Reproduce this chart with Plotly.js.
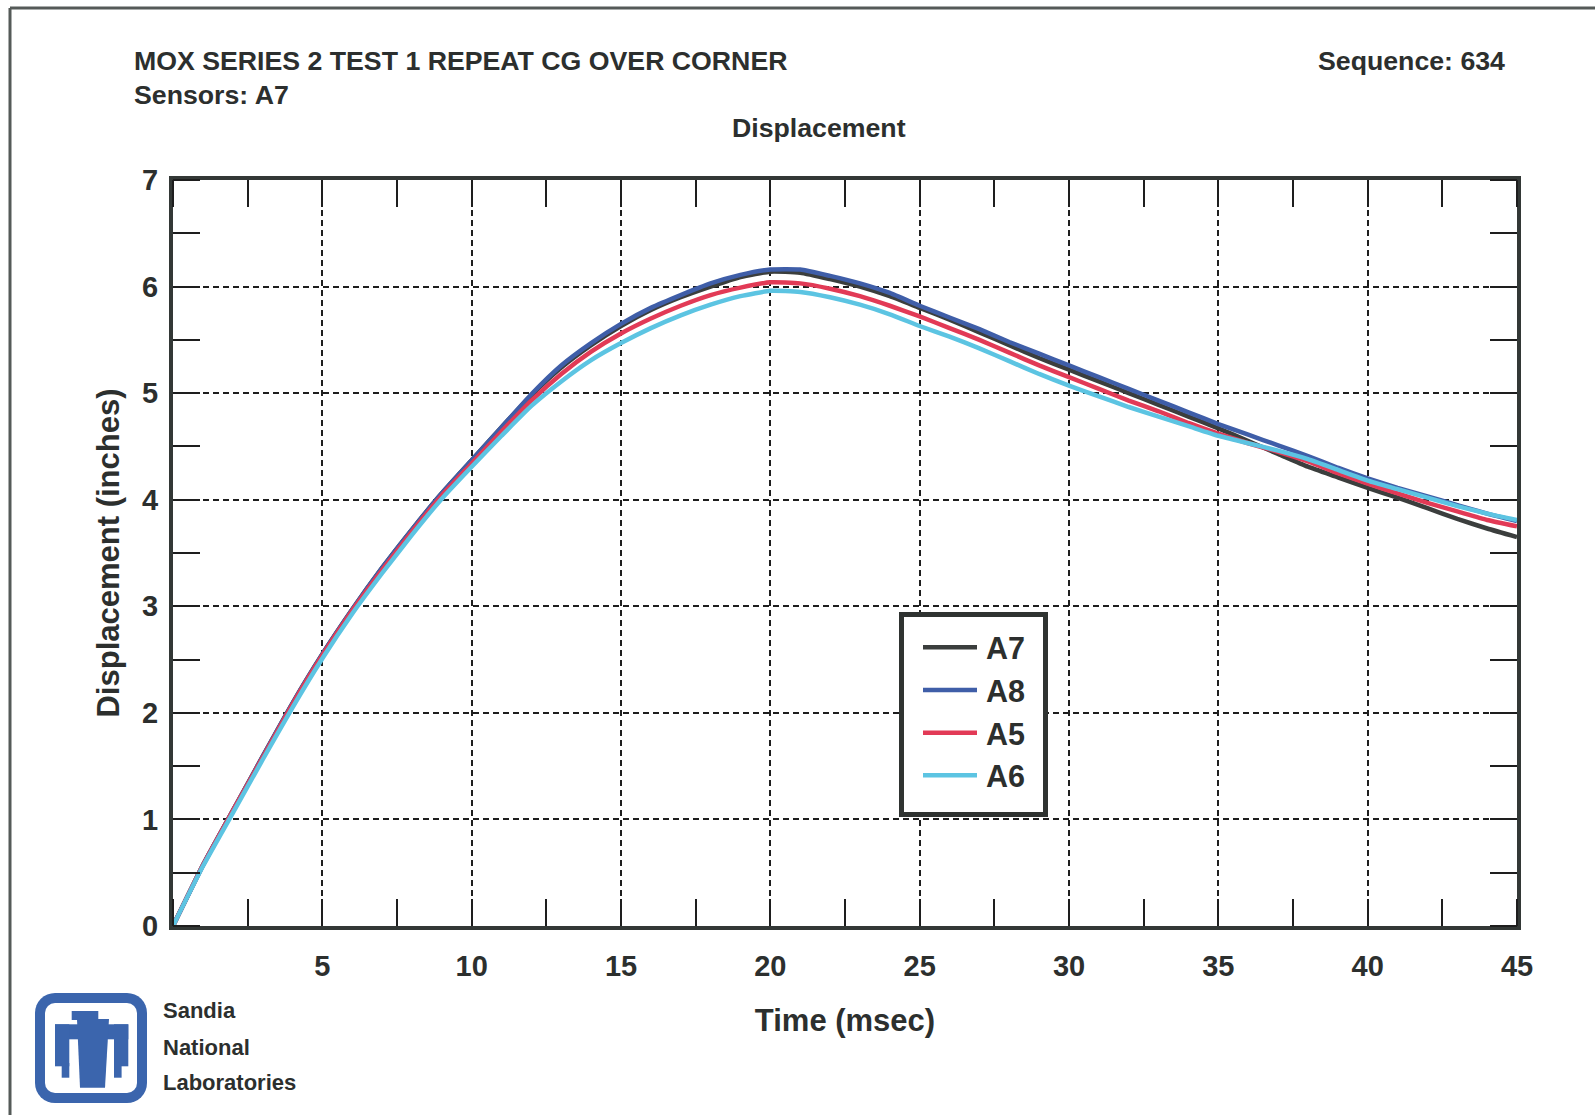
<!DOCTYPE html>
<html>
<head>
<meta charset="utf-8">
<script src="https://cdn.plot.ly/plotly-3.0.1.min.js"></script>
<style>
  html, body { margin: 0; padding: 0; background: #ffffff; }
  #chart { width: 1595px; height: 1115px; }
</style>
</head>
<body>
<div id="chart"></div>
<script>
// ---- Data ----
const timeMs = [0,1,2,3,4,5,6,7,8,9,10,11,12,13,14,15,16,17,18,19,20,21,22,23,24,25,26,27,28,29,30,31,32,33,34,35,36,37,38,39,40,41,42,43,44,45];

const dispA7 = [0,0.57,1.08,1.59,2.09,2.55,2.97,3.36,3.72,4.06,4.37,4.68,4.98,5.24,5.45,5.63,5.78,5.90,6.00,6.09,6.14,6.13,6.07,6.00,5.91,5.80,5.69,5.57,5.45,5.33,5.22,5.11,5.00,4.89,4.78,4.67,4.55,4.43,4.31,4.21,4.11,4.02,3.92,3.82,3.73,3.65];
const dispA8 = [0,0.57,1.08,1.59,2.09,2.55,2.97,3.36,3.72,4.06,4.37,4.68,4.99,5.26,5.47,5.65,5.80,5.92,6.03,6.11,6.16,6.16,6.10,6.03,5.94,5.82,5.71,5.60,5.48,5.37,5.26,5.15,5.04,4.93,4.82,4.71,4.61,4.51,4.41,4.30,4.20,4.11,4.03,3.95,3.87,3.80];
const dispA5 = [0,0.57,1.08,1.58,2.08,2.54,2.96,3.34,3.70,4.04,4.34,4.64,4.93,5.18,5.39,5.56,5.70,5.82,5.92,5.99,6.04,6.03,5.98,5.91,5.82,5.72,5.61,5.50,5.38,5.26,5.15,5.04,4.93,4.83,4.72,4.62,4.53,4.45,4.36,4.25,4.15,4.06,3.97,3.89,3.81,3.75];
const dispA6 = [0,0.56,1.06,1.56,2.05,2.51,2.93,3.31,3.67,4.01,4.31,4.60,4.88,5.11,5.31,5.47,5.61,5.73,5.83,5.91,5.96,5.95,5.90,5.83,5.74,5.63,5.53,5.42,5.30,5.18,5.07,4.97,4.87,4.78,4.69,4.60,4.53,4.46,4.38,4.28,4.18,4.10,4.02,3.94,3.87,3.81];

const seriesNames = ["A7", "A8", "A5", "A6"];
const xTickVals = [5,10,15,20,25,30,35,40,45];
const yTickVals = [0,1,2,3,4,5,6,7];

const titleText = "MOX SERIES 2 TEST 1 REPEAT CG OVER CORNER";
const sensorsText = "Sensors: A7";
const sequenceText = "Sequence: 634";
const subTitleText = "Displacement";
const xTitleText = "Time (msec)";
const yTitleText = "Displacement (inches)";
const labLines = ["Sandia", "National", "Laboratories"];

// ---- Styles ----
const FONT = "'Liberation Sans', Arial, Helvetica, sans-serif";
const INK = "#2c2f2e";
const colors = {A7: "#3b3e3d", A8: "#3f5ea8", A5: "#e23a56", A6: "#5cc4e2"};
const seriesData = [dispA7, dispA8, dispA5, dispA6];

const traces = seriesNames.map((name, i) => ({
  type: "scatter",
  mode: "lines",
  name: name,
  x: timeMs,
  y: seriesData[i],
  line: {color: colors[name], width: 4.5, shape: "spline", smoothing: 0.5}
}));

// plot area geometry (pixels) used to convert page positions to paper coords
const W = 1595, H = 1115;
const L = 173, R = 1517, T = 180, B = 926;
const px = v => (v - L) / (R - L);
const py = v => (B - v) / (B - T);

const logoSvg =
  '<svg xmlns="http://www.w3.org/2000/svg" width="112" height="110" viewBox="0 0 112 110">' +
  '<rect x="0" y="0" width="112" height="110" rx="20" ry="20" fill="#3b65ad"/>' +
  '<rect x="10" y="10" width="92" height="90" rx="10" ry="10" fill="#ffffff"/>' +
  '<rect x="36.7" y="18" width="26.6" height="9" fill="#3b65ad"/>' +
  '<rect x="20" y="31.3" width="73.3" height="15" fill="#3b65ad"/>' +
  '<rect x="20" y="31.3" width="14.3" height="42" fill="#3b65ad"/>' +
  '<rect x="26.7" y="70" width="7.6" height="14.7" fill="#3b65ad"/>' +
  '<rect x="79" y="31.3" width="14.3" height="42" fill="#3b65ad"/>' +
  '<rect x="79" y="70" width="7.6" height="14.7" fill="#3b65ad"/>' +
  '<polygon points="42,26 74,26 70,94.7 45,94.7" fill="#3b65ad"/>' +
  '</svg>';
const logoUri = "data:image/svg+xml;base64," + btoa(logoSvg);

function ann(text, x, y, xanchor, size) {
  return {text: text, x: px(x), y: py(y), xref: "paper", yref: "paper",
    xanchor: xanchor, yanchor: "middle", showarrow: false,
    font: {family: FONT, color: INK, weight: "bold", size: size}};
}
const annotations = [
  ann(titleText, 132, 61, "left", 26.7),
  ann(sensorsText, 132, 95, "left", 26.7),
  ann(sequenceText, 1507, 61, "right", 26.7),
  ann(subTitleText, 819, 128, "center", 26.7),
  ann(labLines[0], 161, 1010, "left", 22),
  ann(labLines[1], 161, 1047, "left", 22),
  ann(labLines[2], 161, 1082, "left", 22)
];

const gridStyle = {showgrid: true, gridcolor: "#1e1e1e", gridwidth: 2, griddash: "6px,4px"};

const layout = {
  width: W, height: H,
  paper_bgcolor: "#ffffff",
  plot_bgcolor: "#ffffff",
  margin: {l: L, r: W - R, t: T, b: H - B, pad: 0},
  showlegend: true,
  font: {family: FONT, color: INK, weight: "bold"},
  xaxis: Object.assign({
    range: [0, 45],
    tickmode: "array",
    tickvals: xTickVals,
    ticks: "",
    ticklabelstandoff: 11,
    tickfont: {family: FONT, size: 29, color: INK, weight: "bold"},
    showline: true, linecolor: "#333836", linewidth: 4, mirror: "ticks",
    zeroline: false,
    minor: {tick0: 0, dtick: 2.5, ticks: "inside", ticklen: 27, tickwidth: 2, tickcolor: "#1e1e1e", showgrid: false},
    title: {text: xTitleText, standoff: 30, font: {family: FONT, size: 31, color: INK, weight: "bold"}},
    automargin: false
  }, gridStyle),
  yaxis: Object.assign({
    range: [0, 7],
    tickmode: "array",
    tickvals: yTickVals,
    ticks: "",
    ticklabelstandoff: 5,
    tickfont: {family: FONT, size: 29, color: INK, weight: "bold"},
    showline: true, linecolor: "#333836", linewidth: 4, mirror: "ticks",
    zeroline: false,
    minor: {tick0: 0, dtick: 0.5, ticks: "inside", ticklen: 27, tickwidth: 2, tickcolor: "#1e1e1e", showgrid: false},
    title: {text: yTitleText, standoff: 14, font: {family: FONT, size: 31, color: INK, weight: "bold"}},
    automargin: false
  }, gridStyle),
  legend: {
    x: px(899), y: py(616), xanchor: "left", yanchor: "top",
    bgcolor: "#ffffff", bordercolor: "#2f3331", borderwidth: 5,
    itemwidth: 72,
    font: {family: FONT, size: 30.5, color: INK, weight: "bold"},
    tracegroupgap: 0
  },
  annotations: annotations,
  images: [{
    source: logoUri, xref: "paper", yref: "paper",
    x: px(35), y: py(993), sizex: 112 / (R - L), sizey: 110 / (B - T),
    xanchor: "left", yanchor: "top", sizing: "stretch", layer: "above"
  }],
  shapes: [
    {type: "line", xref: "paper", yref: "paper", x0: px(10), x1: px(10), y0: py(8), y1: py(H), line: {color: "#555a58", width: 3}},
    {type: "line", xref: "paper", yref: "paper", x0: px(10), x1: px(W), y0: py(8), y1: py(8), line: {color: "#555a58", width: 3}}
  ]
};

// target legend box (outer edge, page pixels) and legend line sample span
const legendBox = {x0: 899, x1: 1048, y0: 612, y1: 817};
const legendLine = {x0: 923, x1: 977};

Plotly.newPlot("chart", traces, layout, {displayModeBar: false, staticPlot: true}).then(gd => {
  try {
    const svgRoot = gd.querySelector(".main-svg");
    const rootCTM = svgRoot.getScreenCTM();
    const toLocal = (el, X, Y) => {
      const m = rootCTM.inverse().multiply(el.getScreenCTM());
      const inv = m.inverse();
      return {x: inv.a * X + inv.c * Y + inv.e, y: inv.b * X + inv.d * Y + inv.f};
    };
    const leg = gd.querySelector("g.legend");
    const bg = leg.querySelector("rect.bg");
    const bw = 5;
    const p0 = toLocal(bg, legendBox.x0 + bw / 2, legendBox.y0 + bw / 2);
    const p1 = toLocal(bg, legendBox.x1 - bw / 2, legendBox.y1 - bw / 2);
    bg.setAttribute("x", p0.x); bg.setAttribute("y", p0.y);
    bg.setAttribute("width", p1.x - p0.x); bg.setAttribute("height", p1.y - p0.y);
    leg.querySelectorAll("g.legendlines path").forEach(p => {
      const a = toLocal(p, legendLine.x0, 0);
      const b = toLocal(p, legendLine.x1, 0);
      p.setAttribute("d", "M" + a.x + ",0H" + b.x);
    });
  } catch (e) { /* keep Plotly's default legend */ }
});
</script>
</body>
</html>
